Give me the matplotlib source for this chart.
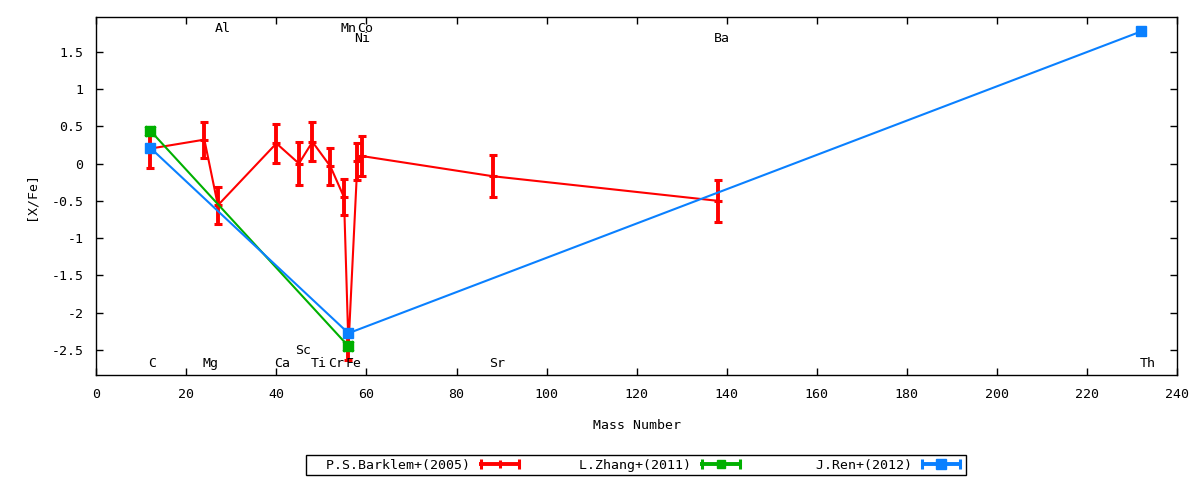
import matplotlib
matplotlib.use("Agg")
import matplotlib.pyplot as plt
from matplotlib.lines import Line2D
from matplotlib.legend_handler import HandlerBase
from matplotlib.ticker import FuncFormatter, MultipleLocator

# ---------------- data ----------------
barklem_mass = [12, 24, 27, 40, 45, 48, 52, 55, 56, 58, 59, 88, 138]
barklem_xfe = [0.20, 0.32, -0.56, 0.27, 0.00, 0.29, -0.04, -0.45, -2.45, 0.03, 0.10, -0.17, -0.50]
barklem_err = [0.255, 0.24, 0.25, 0.26, 0.285, 0.26, 0.25, 0.24, 0.18, 0.245, 0.265, 0.285, 0.285]

zhang_mass = [12, 56]
zhang_xfe = [0.44, -2.45]

ren_mass = [12, 56, 232]
ren_xfe = [0.21, -2.275, 1.77]

element_names = ["C", "Mg", "Al", "Ca", "Sc", "Ti", "Cr", "Mn", "Fe", "Co", "Ni", "Sr", "Ba", "Th"]
element_label_x = [12.3, 25.3, 28.0, 41.2, 46.0, 49.4, 53.3, 56.1, 57.2, 59.8, 59.1, 89.0, 139.0, 233.5]
element_label_y = [-2.68, -2.68, 1.815, -2.68, -2.50, -2.68, -2.68, 1.815, -2.68, 1.815, 1.68, -2.68, 1.68, -2.68]

series_names = ["P.S.Barklem+(2005)", "L.Zhang+(2011)", "J.Ren+(2012)"]

# ---------------- style ----------------
plt.rcParams["font.family"] = ["DejaVu Sans Mono"]
plt.rcParams["axes.unicode_minus"] = False
FS = 9.5
RED = "#ff0000"
GREEN = "#00b000"
BLUE = "#0a80ff"

fig = plt.figure(figsize=(12, 4.8), dpi=100)
ax = fig.add_axes([96.3 / 1200, 1 - 375 / 480, (1177 - 96.3) / 1200, (375 - 17.3) / 480])

ax.errorbar(barklem_mass, barklem_xfe, yerr=barklem_err, color=RED, lw=1.5,
            elinewidth=2.8, capsize=2.9, capthick=2.2, marker="_", ms=5.8, mew=2.2,
            zorder=2)
ax.plot(zhang_mass, zhang_xfe, color=GREEN, lw=1.5, marker="s", ms=6.8, zorder=3)
ax.plot(zhang_mass, zhang_xfe, color=GREEN, lw=0, marker="x", ms=7.5, mew=2.0, zorder=3)
ax.plot(ren_mass, ren_xfe, color=BLUE, lw=1.5, marker="s", ms=7.4, zorder=4)

for name, lx, ly in zip(element_names, element_label_x, element_label_y):
    ax.text(lx, ly, name, ha="center", va="center", fontsize=FS, color="black", zorder=5)

ax.set_xlim(0, 240)
ax.set_ylim(-2.835, 1.96)
ax.xaxis.set_major_locator(MultipleLocator(20))
ax.yaxis.set_major_locator(MultipleLocator(0.5))
ax.yaxis.set_major_formatter(FuncFormatter(lambda v, p: "%g" % (round(v, 3) + 0.0)))
ax.tick_params(direction="in", length=5, width=1, top=True, right=True,
               labelsize=FS, pad=9.3)
for s in ax.spines.values():
    s.set_linewidth(1.0)
ax.set_xlabel("Mass Number", fontsize=FS, labelpad=13)
ax.set_ylabel("[X/Fe]", fontsize=FS, labelpad=10)


# ---------------- legend ----------------
class ErrHandler(HandlerBase):
    def create_artists(self, legend, orig_handle, xdescent, ydescent, width, height,
                       fontsize, trans):
        c = orig_handle.get_color()
        m = orig_handle.get_marker()
        ms = orig_handle.get_markersize()
        y = height / 2.0 - ydescent
        x0, x1 = -xdescent, width - xdescent
        line = Line2D([x0, x1], [y, y], color=c, lw=2.8, solid_capstyle="butt")
        caps = Line2D([x0 + 1, x1 - 1], [y, y], ls="none", marker="|", ms=7, mew=2.2, color=c)
        arts = [line, caps]
        if m == "|":
            cen = Line2D([(x0 + x1) / 2], [y], ls="none", marker="|", ms=6, mew=2.2, color=c)
        else:
            cen = Line2D([(x0 + x1) / 2], [y], ls="none", marker=m, ms=ms, color=c)
        arts.append(cen)
        for a in arts:
            a.set_transform(trans)
        return arts


# gnuplot right-justifies keys in equal-width columns: pad with leading spaces
width_chars = max(len(s) for s in series_names) + 2
legend_labels = [s.rjust(width_chars) for s in series_names]

proxies = [Line2D([], [], color=RED, marker="|", ms=6),
           Line2D([], [], color=GREEN, marker="s", ms=6),
           Line2D([], [], color=BLUE, marker="s", ms=7)]
leg = fig.legend(proxies, legend_labels, loc="center", bbox_to_anchor=(636 / 1200, 1 - 465 / 480),
                 ncol=3, markerfirst=False, fontsize=FS, frameon=True, fancybox=False,
                 edgecolor="black", framealpha=1, handlelength=3.1, handletextpad=0.7,
                 columnspacing=0.8, borderpad=0.3, borderaxespad=0,
                 handler_map={Line2D: ErrHandler()})
leg.get_frame().set_linewidth(1.0)

fig.savefig("out.png", dpi=100)
